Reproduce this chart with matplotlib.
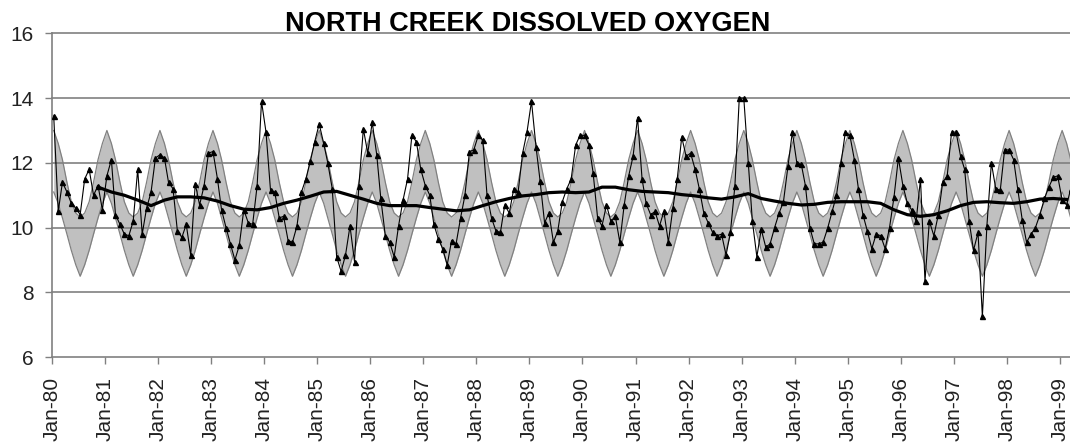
import numpy as np
import pandas as pd
import matplotlib
matplotlib.use("Agg")
import matplotlib.pyplot as plt

plt.rcParams['font.family'] = ['Liberation Sans', 'DejaVu Sans']

title = "NORTH CREEK DISSOLVED OXYGEN"
tick_years = list(range(1980, 2000))
tick_labels = [f"Jan-{y % 100:02d}" for y in tick_years]
y_ticks = [6, 8, 10, 12, 14, 16]

# seasonal envelope (monthly, Jan..Dec), repeated every year
upper_profile = [13.0, 12.6, 12.1, 11.4, 10.8, 10.45, 10.33, 10.45, 10.8, 11.4, 12.1, 12.6]
lower_profile = [11.1, 10.75, 10.3, 9.8, 9.3, 8.85, 8.5, 8.85, 9.3, 9.8, 10.3, 10.75]

# monthly dissolved oxygen observations (mg/L)
do_1980 = [13.45, 10.5, 11.4, 11.1, 10.75, 10.6, 10.4, 11.5, 11.8, 11.0, 11.3, 10.55]
do_1981 = [11.6, 12.1, 10.4, 10.1, 9.8, 9.75, 10.2, 11.8, 9.8, 10.6, 11.1, 12.15]
do_1982 = [12.25, 12.15, 11.4, 11.2, 9.9, 9.7, 10.1, 9.15, 11.35, 10.7, 11.3, 12.3]
do_1983 = [12.35, 11.5, 10.55, 10.0, 9.5, 9.0, 9.45, 10.55, 10.15, 10.1, 11.3, 13.9]
do_1984 = [12.95, 11.15, 11.1, 10.3, 10.35, 9.6, 9.55, 10.05, 11.1, 11.5, 12.05, 12.65]
do_1985 = [13.2, 12.6, 12.0, 11.2, 9.1, 8.65, 9.15, 10.05, 8.95, 11.3, 13.05, 12.3]
do_1986 = [13.25, 12.25, 10.9, 9.75, 9.55, 9.1, 10.05, 10.85, 11.5, 12.85, 12.65, 11.8]
do_1987 = [11.3, 11.0, 10.1, 9.65, 9.35, 8.85, 9.6, 9.5, 10.3, 11.0, 12.35, 12.4]
do_1988 = [12.85, 12.7, 11.0, 10.3, 9.9, 9.85, 10.7, 10.45, 11.2, 11.1, 12.3, 12.95]
do_1989 = [13.9, 12.5, 11.45, 10.15, 10.45, 9.55, 9.9, 10.8, 11.2, 11.5, 12.55, 12.85]
do_1990 = [12.85, 12.55, 11.7, 10.3, 10.05, 10.7, 10.2, 10.35, 9.55, 10.7, 11.6, 12.2]
do_1991 = [13.4, 11.5, 10.75, 10.4, 10.5, 10.05, 10.5, 9.55, 10.6, 11.5, 12.8, 12.2]
do_1992 = [12.3, 11.8, 11.2, 10.45, 10.15, 9.85, 9.75, 9.8, 9.15, 9.85, 11.3, 14.0]
do_1993 = [14.0, 12.0, 10.2, 9.1, 9.95, 9.4, 9.5, 10.0, 10.45, 10.8, 11.9, 12.95]
do_1994 = [12.0, 11.95, 11.3, 10.0, 9.5, 9.5, 9.55, 9.98, 10.5, 11.0, 12.0, 12.95]
do_1995 = [12.85, 12.1, 11.2, 10.4, 9.9, 9.35, 9.8, 9.75, 9.35, 10.0, 10.95, 12.15]
do_1996 = [11.3, 10.75, 10.55, 10.2, 11.5, 8.35, 10.2, 9.75, 10.4, 11.4, 11.6, 12.95]
do_1997 = [12.95, 12.2, 11.8, 10.2, 9.3, 9.85, 7.26, 10.05, 12.0, 11.2, 11.15, 12.4]
do_1998 = [12.4, 12.1, 11.2, 10.25, 9.55, 9.8, 10.0, 10.4, 10.9, 11.25, 11.55, 11.6]
do_1999 = [10.85, 10.7, 11.2]

# 12-month moving average, read every 3 months starting Nov-80
ma_values = [11.25, 11.1, 11.0, 10.85, 10.68, 10.85, 10.95, 10.95, 10.92, 10.82,
             10.68, 10.57, 10.55, 10.62, 10.75, 10.85, 10.97, 11.1, 11.12, 11.0,
             10.88, 10.75, 10.68, 10.68, 10.68, 10.62, 10.57, 10.52, 10.55, 10.68,
             10.8, 10.9, 10.98, 11.02, 11.08, 11.1, 11.08, 11.1, 11.25, 11.25,
             11.17, 11.12, 11.1, 11.08, 11.02, 10.98, 10.92, 10.88, 10.95, 11.05,
             10.9, 10.82, 10.75, 10.7, 10.72, 10.78, 10.8, 10.8, 10.8, 10.75,
             10.55, 10.4, 10.35, 10.4, 10.52, 10.68, 10.78, 10.8, 10.77, 10.75,
             10.8, 10.88, 10.9, 10.87]

obs = np.array(do_1980 + do_1981 + do_1982 + do_1983 + do_1984 + do_1985 + do_1986 +
               do_1987 + do_1988 + do_1989 + do_1990 + do_1991 + do_1992 + do_1993 +
               do_1994 + do_1995 + do_1996 + do_1997 + do_1998 + do_1999)
obs_dates = pd.date_range("1980-01-01", periods=len(obs), freq="MS") + pd.Timedelta(days=14)

n_band = 12 * 19 + 5
band_dates = pd.date_range("1980-01-01", periods=n_band, freq="MS") + pd.Timedelta(days=14)
upper = np.tile(upper_profile, 20)[:n_band]
lower = np.tile(lower_profile, 20)[:n_band]

ma_dates = pd.date_range("1980-11-01", periods=len(ma_values), freq="3MS") + pd.Timedelta(days=14)

fig = plt.figure(figsize=(10.70, 4.43), dpi=100)
ax = fig.add_axes([0.0483, 0.1937, 0.9517, 0.7311])

ax.fill_between(band_dates, lower, upper, color="#c0c0c0", lw=0, zorder=1)
ax.plot(band_dates, upper, color="#808080", lw=0.9, zorder=1.2)
ax.plot(band_dates, lower, color="#808080", lw=0.9, zorder=1.2)

for v in y_ticks[1:]:
    ax.axhline(v, color="#808080", lw=1.2, zorder=2, clip_on=False)

ax.plot(obs_dates, obs, color="black", lw=0.8, marker="^", ms=3.6, zorder=4)
ax.plot(ma_dates, ma_values, color="black", lw=2.3, zorder=5)

ax.set_ylim(6, 16)
ax.set_xlim(pd.Timestamp("1980-01-01"), pd.Timestamp("1999-03-10"))
ax.set_yticks(y_ticks)
ax.set_yticklabels([str(v) for v in y_ticks])
ax.set_xticks([pd.Timestamp(f"{y}-01-01") for y in tick_years])
ax.set_xticklabels(tick_labels, rotation=90)

for s in ["top", "right"]:
    ax.spines[s].set_visible(False)
for s in ["left", "bottom"]:
    ax.spines[s].set_color("#808080")
    ax.spines[s].set_linewidth(1.2)

ax.tick_params(axis="both", direction="out", length=5, width=1, color="#808080",
               labelsize=15, labelcolor="#222222")
ax.tick_params(axis="y", pad=8)
ax.tick_params(axis="x", pad=9)

fig.text(0.4935, 0.929, title, ha="center", va="baseline", fontsize=19.5,
         fontweight="bold", color="black")

fig.savefig("out.png", dpi=100)
